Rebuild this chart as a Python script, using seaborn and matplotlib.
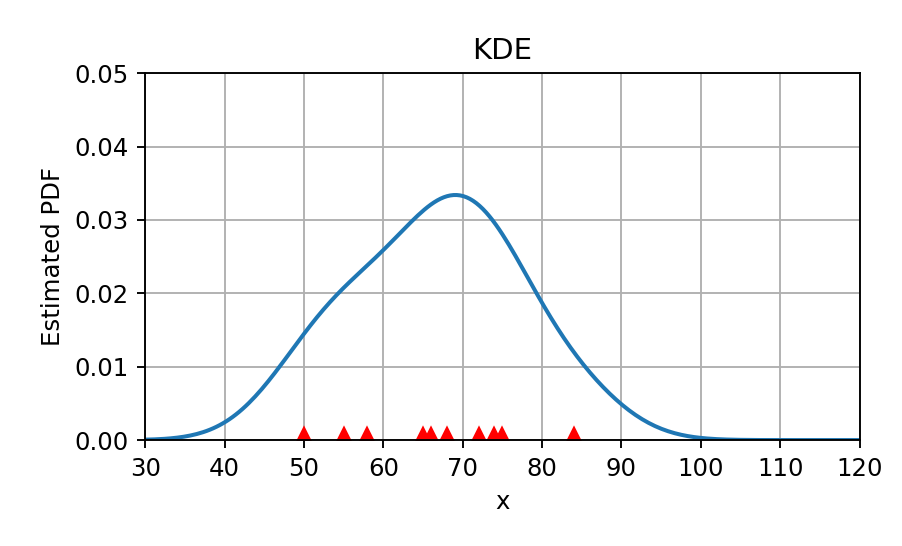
import matplotlib
matplotlib.use("Agg")
import matplotlib.pyplot as plt
import seaborn as sns
import numpy as np

# observed samples (red triangles)
samples = [50, 55, 58, 65, 66, 68, 72, 74, 75, 84]
x_ticks = [30, 40, 50, 60, 70, 80, 90, 100, 110, 120]
y_ticks = [0.00, 0.01, 0.02, 0.03, 0.04, 0.05]

plt.rcParams['font.size'] = 10.3

fig = plt.figure(figsize=(902 / 170, 546 / 170), dpi=170)
ax = fig.add_axes([0.161, 0.194, 0.792, 0.672])

# gaussian KDE of the samples, evaluated over the whole x range
sns.kdeplot(x=samples, ax=ax, color='#1f77b4', lw=1.7, cut=10, gridsize=400)
ax.plot(samples, np.zeros(len(samples)), 'r^', ms=10)

ax.set_xlim(x_ticks[0], x_ticks[-1])
ax.set_ylim(y_ticks[0], y_ticks[-1])
ax.set_xticks(x_ticks)
ax.set_yticks(y_ticks)
ax.grid(True)
ax.set_axisbelow(True)
ax.set_title('KDE')
ax.set_xlabel('x')
ax.set_ylabel('Estimated PDF')

fig.savefig('out.png', dpi=170)
